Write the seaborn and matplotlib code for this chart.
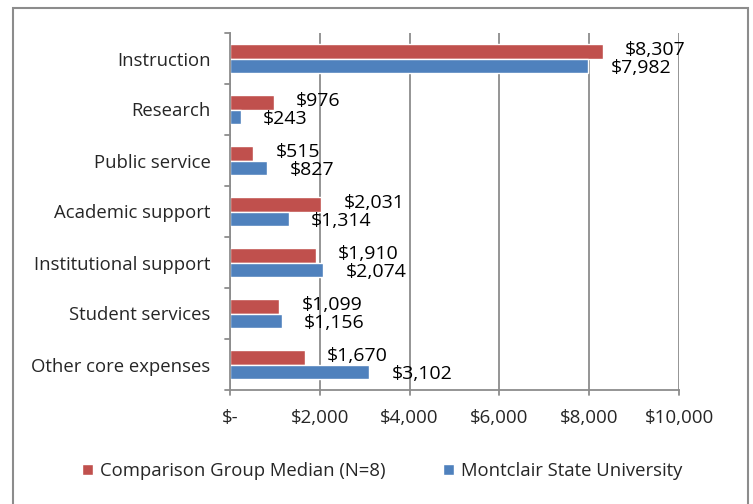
import numpy as np
import pandas as pd
import matplotlib
matplotlib.use("Agg")
import matplotlib.pyplot as plt
from matplotlib.patches import Rectangle
import seaborn as sns

# data
categories = ["Instruction", "Research", "Public service", "Academic support",
              "Institutional support", "Student services", "Other core expenses"]
comparison = [8307, 976, 515, 2031, 1910, 1099, 1670]
montclair = [7982, 243, 827, 1314, 2074, 1156, 3102]
series_names = ["Comparison Group Median (N=8)", "Montclair State University"]
x_ticks = [0, 2000, 4000, 6000, 8000, 10000]

df = pd.DataFrame({
    "category": categories * 2,
    "value": comparison + montclair,
    "series": [series_names[0]] * len(categories) + [series_names[1]] * len(categories),
})

sns.set_style("white")
plt.rcParams["font.family"] = ["Open Sans", "DejaVu Sans"]

fig = plt.figure(figsize=(7.53, 5.04), dpi=100)
ax = fig.add_axes([230 / 753, 1 - 390 / 504, 449 / 753, 357 / 504])

palette = {series_names[0]: "#C0504D", series_names[1]: "#4F81BD"}
sns.barplot(data=df, y="category", x="value", hue="series", order=categories,
            hue_order=series_names, palette=palette, orient="h", width=0.55,
            saturation=1, ax=ax, legend=True)

def money(v):
    return "$-" if v == 0 else f"${v:,.0f}"

# value labels
for cont, dy in zip(ax.containers, [1, -2]):
    for bar in cont:
        w = bar.get_width()
        yc = bar.get_y() + bar.get_height() / 2
        ax.annotate(money(w), (w, yc), xytext=(16, dy), textcoords="offset points",
                    ha="left", va="center", fontsize=14, color="black",
                    annotation_clip=False)

ax.set_xlim(0, 10000)
ax.set_ylim(len(categories) - 0.5, -0.5)
ax.set_xticks(x_ticks)
ax.set_xticklabels([money(t) for t in x_ticks], fontsize=13.5)
ax.tick_params(axis="y", labelsize=13.3, length=0, pad=14)
ax.tick_params(axis="x", length=0, pad=14)
ax.set_xlabel("")
ax.set_ylabel("")

grid_c = "#8C8C8C"
ax.grid(axis="x", color=grid_c, linewidth=1.3)
ax.set_axisbelow(True)
for side in ["top", "right"]:
    ax.spines[side].set_visible(False)
for side in ["left", "bottom"]:
    ax.spines[side].set_color(grid_c)
    ax.spines[side].set_linewidth(1.3)

# small category separators on the y axis
for i in range(len(categories) + 1):
    ax.plot([-0.012, 0], [i - 0.5, i - 0.5], transform=ax.get_yaxis_transform(),
            color=grid_c, lw=1.3, clip_on=False)
for t in x_ticks:
    ax.plot([t, t], [0, -0.015], transform=ax.get_xaxis_transform(),
            color=grid_c, lw=1.3, clip_on=False)

handles, labels = ax.get_legend_handles_labels()
ax.legend_.remove()
fig.legend(handles, labels, loc="center", bbox_to_anchor=(382 / 753, 1 - 471 / 504),
           ncol=2, frameon=False, fontsize=13.3, handlelength=0.6, handleheight=0.6,
           columnspacing=3.1, handletextpad=0.38)

# outer chart frame
fig.patches.append(Rectangle((13 / 753, -0.05), 735 / 753, 1.05 - 8 / 504,
                             transform=fig.transFigure, fill=False,
                             edgecolor="#8C8C8C", linewidth=1.5))

fig.savefig("out.png", dpi=100)
